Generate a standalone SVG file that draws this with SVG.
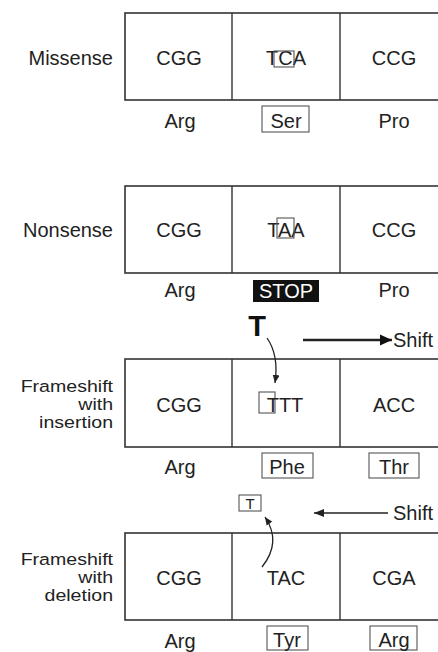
<svg xmlns="http://www.w3.org/2000/svg" width="438" height="652" viewBox="0 0 438 652">
<style>
text{font-family:"Liberation Sans",Arial,sans-serif;fill:#222}
.lab{font-size:20px;text-anchor:end}
.ml{font-size:16.3px;text-anchor:end}
.cod{font-size:20px;text-anchor:middle}
.aa{font-size:20px;text-anchor:middle}
.frame{fill:none;stroke:#333;stroke-width:1.6}
.div{stroke:#333;stroke-width:1.4}
.hl{fill:none;stroke:#555;stroke-width:1.1}
.conn{fill:none;stroke:#222}
</style>
<defs>
<marker id="ah" markerWidth="10" markerHeight="10" refX="8" refY="5" orient="auto" markerUnits="userSpaceOnUse"><path d="M0,1.5 L8,5 L0,8.5 Z" fill="#222"/></marker>
<marker id="ahBig" markerWidth="14" markerHeight="14" refX="12" refY="6" orient="auto" markerUnits="userSpaceOnUse"><path d="M0,0.5 L12,6 L0,11.5 Z" fill="#111"/></marker>
<marker id="ahMid" markerWidth="12" markerHeight="12" refX="10" refY="5" orient="auto" markerUnits="userSpaceOnUse"><path d="M0,1 L10,5 L0,9 Z" fill="#222"/></marker>
</defs>

<g id="missense">
<text class="lab" x="113" y="65">Missense</text>
<rect class="frame" x="125" y="13" width="320" height="87"/>
<line class="div" x1="232" y1="13" x2="232" y2="100"/>
<line class="div" x1="340" y1="13" x2="340" y2="100"/>
<text class="cod" x="179" y="65">CGG</text>
<text class="cod" x="286" y="65">TCA</text>
<rect class="hl" x="274" y="51" width="20" height="16"/>
<text class="cod" x="394" y="65">CCG</text>
<text class="aa" x="180" y="128">Arg</text>
<rect class="hl" x="262" y="106" width="47" height="26"/>
<text class="aa" x="286" y="128">Ser</text>
<text class="aa" x="394" y="128">Pro</text>
</g>

<g id="nonsense">
<text class="lab" x="113" y="237">Nonsense</text>
<rect class="frame" x="125" y="186" width="320" height="87"/>
<line class="div" x1="232" y1="186" x2="232" y2="273"/>
<line class="div" x1="340" y1="186" x2="340" y2="273"/>
<text class="cod" x="179" y="237">CGG</text>
<text class="cod" x="286" y="237">TAA</text>
<rect class="hl" x="277" y="218" width="17" height="20"/>
<text class="cod" x="394" y="237">CCG</text>
<text class="aa" x="180" y="297">Arg</text>
<rect x="253" y="280" width="66" height="22" fill="#111"/>
<text class="aa" x="286" y="298" style="fill:#fff">STOP</text>
<text class="aa" x="394" y="297">Pro</text>
</g>

<g id="frameshift-insertion">
<g transform="scale(1.2,1)">
<text class="ml" x="94.2" y="392">Frameshift</text>
<text class="ml" x="94.2" y="410">with</text>
<text class="ml" x="94.2" y="428">insertion</text>
</g>
<rect class="frame" x="125" y="359" width="320" height="88"/>
<line class="div" x1="232" y1="359" x2="232" y2="447"/>
<line class="div" x1="340" y1="359" x2="340" y2="447"/>
<text class="cod" x="179" y="412">CGG</text>
<rect class="hl" x="259" y="392" width="16" height="21"/>
<text class="cod" x="285" y="412">TTT</text>
<text class="cod" x="394" y="412">ACC</text>
<text class="aa" x="180" y="474">Arg</text>
<rect class="hl" x="262" y="453" width="51" height="25"/>
<text class="aa" x="287" y="474">Phe</text>
<rect class="hl" x="369" y="453" width="50" height="25"/>
<text class="aa" x="394" y="474">Thr</text>
<text x="257" y="336" style="font-size:29px;font-weight:bold;text-anchor:middle;fill:#111">T</text>
<text x="393" y="347" style="font-size:20px">Shift</text>
</g>

<g id="frameshift-deletion">
<g transform="scale(1.2,1)">
<text class="ml" x="94.2" y="565">Frameshift</text>
<text class="ml" x="94.2" y="583">with</text>
<text class="ml" x="94.2" y="601">deletion</text>
</g>
<rect class="frame" x="125" y="533" width="320" height="87"/>
<line class="div" x1="232" y1="533" x2="232" y2="620"/>
<line class="div" x1="340" y1="533" x2="340" y2="620"/>
<text class="cod" x="179" y="585">CGG</text>
<text class="cod" x="286" y="585">TAC</text>
<text class="cod" x="394" y="585">CGA</text>
<text class="aa" x="180" y="648">Arg</text>
<rect class="hl" x="267" y="626" width="41" height="24"/>
<text class="aa" x="287" y="647">Tyr</text>
<rect class="hl" x="370" y="626" width="47" height="24"/>
<text class="aa" x="394" y="647">Arg</text>
<rect class="hl" x="239" y="495" width="22" height="16"/>
<text x="250" y="509" style="font-size:15px;text-anchor:middle">T</text>
<text x="393" y="520" style="font-size:20px">Shift</text>
</g>

<g id="connectors">
<path class="conn" d="M267,338 Q279,355 275,383" stroke-width="1.3" marker-end="url(#ah)"/>
<line class="conn" x1="303" y1="340" x2="392" y2="340" stroke-width="2.6" marker-end="url(#ahBig)"/>
<path class="conn" d="M262,567 Q282,542 265,517" stroke-width="1.3" marker-end="url(#ah)"/>
<line class="conn" x1="388" y1="513" x2="314" y2="513" stroke-width="1.4" marker-end="url(#ahMid)"/>
</g>
</svg>
